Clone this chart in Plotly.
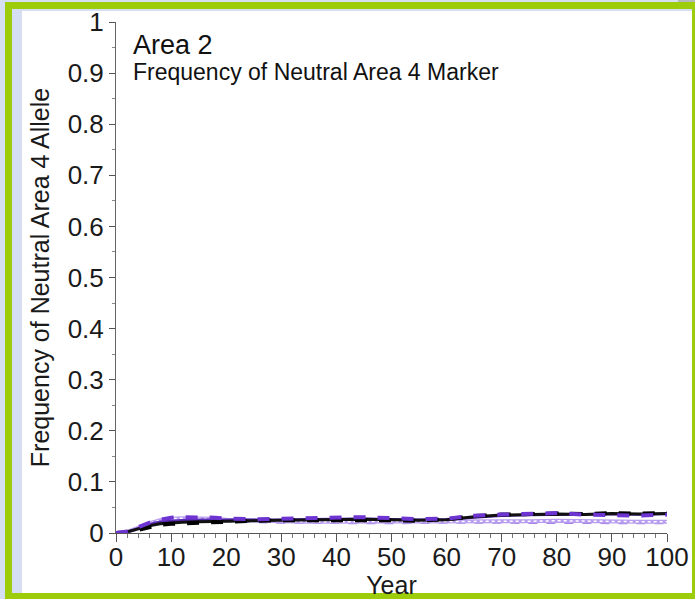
import plotly.graph_objects as go

# Simulation output: frequency of the neutral Area 4 allele in Area 2
years = [0, 2, 4, 6, 8, 10, 12, 15, 18, 20, 25, 30, 35, 40, 45, 50, 55, 60, 65, 70, 75, 80, 85, 90, 95, 100]

run_black_solid = [0, 0.002, 0.008, 0.014, 0.018, 0.020, 0.021, 0.022, 0.023, 0.023, 0.024, 0.025, 0.026,
                   0.027, 0.027, 0.026, 0.025, 0.026, 0.032, 0.035, 0.036, 0.037, 0.036, 0.038, 0.037, 0.038]
run_black_dash = [0, 0.001, 0.006, 0.012, 0.016, 0.018, 0.019, 0.020, 0.021, 0.022, 0.024, 0.025, 0.025,
                  0.026, 0.026, 0.025, 0.024, 0.027, 0.033, 0.036, 0.037, 0.038, 0.037, 0.039, 0.038, 0.039]
run_purple_dash = [0, 0.003, 0.011, 0.020, 0.026, 0.030, 0.031, 0.031, 0.030, 0.028, 0.027, 0.028, 0.029,
                   0.030, 0.031, 0.029, 0.027, 0.028, 0.034, 0.036, 0.037, 0.039, 0.036, 0.035, 0.034, 0.036]
run_purple_solid = [0, 0.002, 0.009, 0.017, 0.022, 0.024, 0.025, 0.026, 0.026, 0.025, 0.025, 0.026, 0.027,
                    0.028, 0.028, 0.027, 0.026, 0.027, 0.031, 0.034, 0.035, 0.036, 0.036, 0.037, 0.036, 0.037]
run_lavender = [0, 0.002, 0.010, 0.019, 0.025, 0.028, 0.029, 0.029, 0.028, 0.026, 0.024, 0.023, 0.022,
                0.022, 0.022, 0.022, 0.022, 0.022, 0.023, 0.023, 0.023, 0.024, 0.023, 0.023, 0.022, 0.022]
run_lilac_dash = [0, 0.001, 0.008, 0.015, 0.020, 0.023, 0.024, 0.025, 0.025, 0.024, 0.022, 0.021, 0.021,
                  0.020, 0.020, 0.020, 0.021, 0.021, 0.021, 0.021, 0.020, 0.020, 0.020, 0.020, 0.020, 0.020]

y_ticks = [0, 0.1, 0.2, 0.3, 0.4, 0.5, 0.6, 0.7, 0.8, 0.9, 1]
y_tick_text = ["0", "0.1", "0.2", "0.3", "0.4", "0.5", "0.6", "0.7", "0.8", "0.9", "1"]
x_ticks = [0, 10, 20, 30, 40, 50, 60, 70, 80, 90, 100]

W, H = 695, 599
L, R, T, B = 116, 28, 22, 66
PW, PH = W - L - R, H - T - B


def px(x):
    return (x - L) / PW


def py(y):
    return (H - B - y) / PH


FONT = "Liberation Sans, Arial, Helvetica, sans-serif"

fig = go.Figure()

series = [
    (run_lilac_dash, "#a184e6", 3, "dash"),
    (run_lavender, "#b89cef", 4, "solid"),
    (run_lavender, "#ffffff", 1.5, "dot"),
    (run_purple_solid, "#5a2bb5", 2.5, "solid"),
    (run_black_solid, "#111111", 3, "solid"),
    (run_black_dash, "#000000", 4, "dash"),
    (run_purple_dash, "#6d34d2", 4, "dash"),
]
for ys, color, width, dash in series:
    fig.add_trace(go.Scatter(x=years, y=ys, mode="lines",
                             line=dict(color=color, width=width, dash=dash),
                             showlegend=False, hoverinfo="skip"))

# page frame: light blue page, green border, white panel
shapes = [
    dict(type="rect", xref="paper", yref="paper", x0=px(5), x1=px(700), y0=py(2), y1=py(605),
         fillcolor="#9dcc0a", line=dict(width=0), layer="below"),
    dict(type="rect", xref="paper", yref="paper", x0=px(12), x1=px(692), y0=py(9), y1=py(593),
         fillcolor="#d5dff1", line=dict(width=0), layer="below"),
    dict(type="rect", xref="paper", yref="paper", x0=px(22), x1=px(692), y0=py(11), y1=py(593),
         fillcolor="#ffffff", line=dict(width=0), layer="below"),
    dict(type="rect", xref="paper", yref="paper", x0=px(678), x1=px(700), y0=py(-5), y1=py(2),
         fillcolor="#b5b8bc", line=dict(width=0), layer="below"),
]

annotations = [
    dict(text="Area 2", xref="paper", yref="paper", x=px(131), y=py(45), xanchor="left", yanchor="middle",
         showarrow=False, font=dict(family=FONT, size=27, color="#111111")),
    dict(text="Frequency of Neutral Area 4 Marker", xref="paper", yref="paper", x=px(131), y=py(72),
         xanchor="left", yanchor="middle", showarrow=False, font=dict(family=FONT, size=23, color="#111111")),
]

fig.update_layout(
    width=W, height=H,
    margin=dict(l=L, r=R, t=T, b=B, autoexpand=False),
    paper_bgcolor="#d5dff1",
    plot_bgcolor="rgba(0,0,0,0)",
    shapes=shapes,
    annotations=annotations,
    font=dict(family=FONT, size=26, color="#1a1a1a"),
)

fig.update_xaxes(
    range=[0, 100], tickvals=x_ticks, ticks="outside", ticklen=8, tickcolor="#555555",
    ticklabelstandoff=-7,
    showline=True, linecolor="#555555", linewidth=1, showgrid=False, zeroline=False, automargin=False,
    tickfont=dict(family=FONT, size=26, color="#1a1a1a"),
    minor=dict(dtick=2, ticks="outside", ticklen=4, tickcolor="#777777", showgrid=False),
    title=dict(text="Year", font=dict(family=FONT, size=25, color="#1a1a1a"), standoff=6),
)
fig.update_yaxes(
    range=[0, 1], tickvals=y_ticks, ticktext=y_tick_text, ticks="outside", ticklen=6, tickcolor="#555555",
    showline=True, linecolor="#666666", linewidth=1, showgrid=False, zeroline=False, automargin=False,
    tickfont=dict(family=FONT, size=26, color="#1a1a1a"),
    minor=dict(dtick=0.05, ticks="outside", ticklen=3, tickcolor="#888888", showgrid=False),
    title=dict(text="Frequency of Neutral Area 4 Allele", font=dict(family=FONT, size=25, color="#1a1a1a"),
               standoff=10),
)

fig.write_html("out.html")
